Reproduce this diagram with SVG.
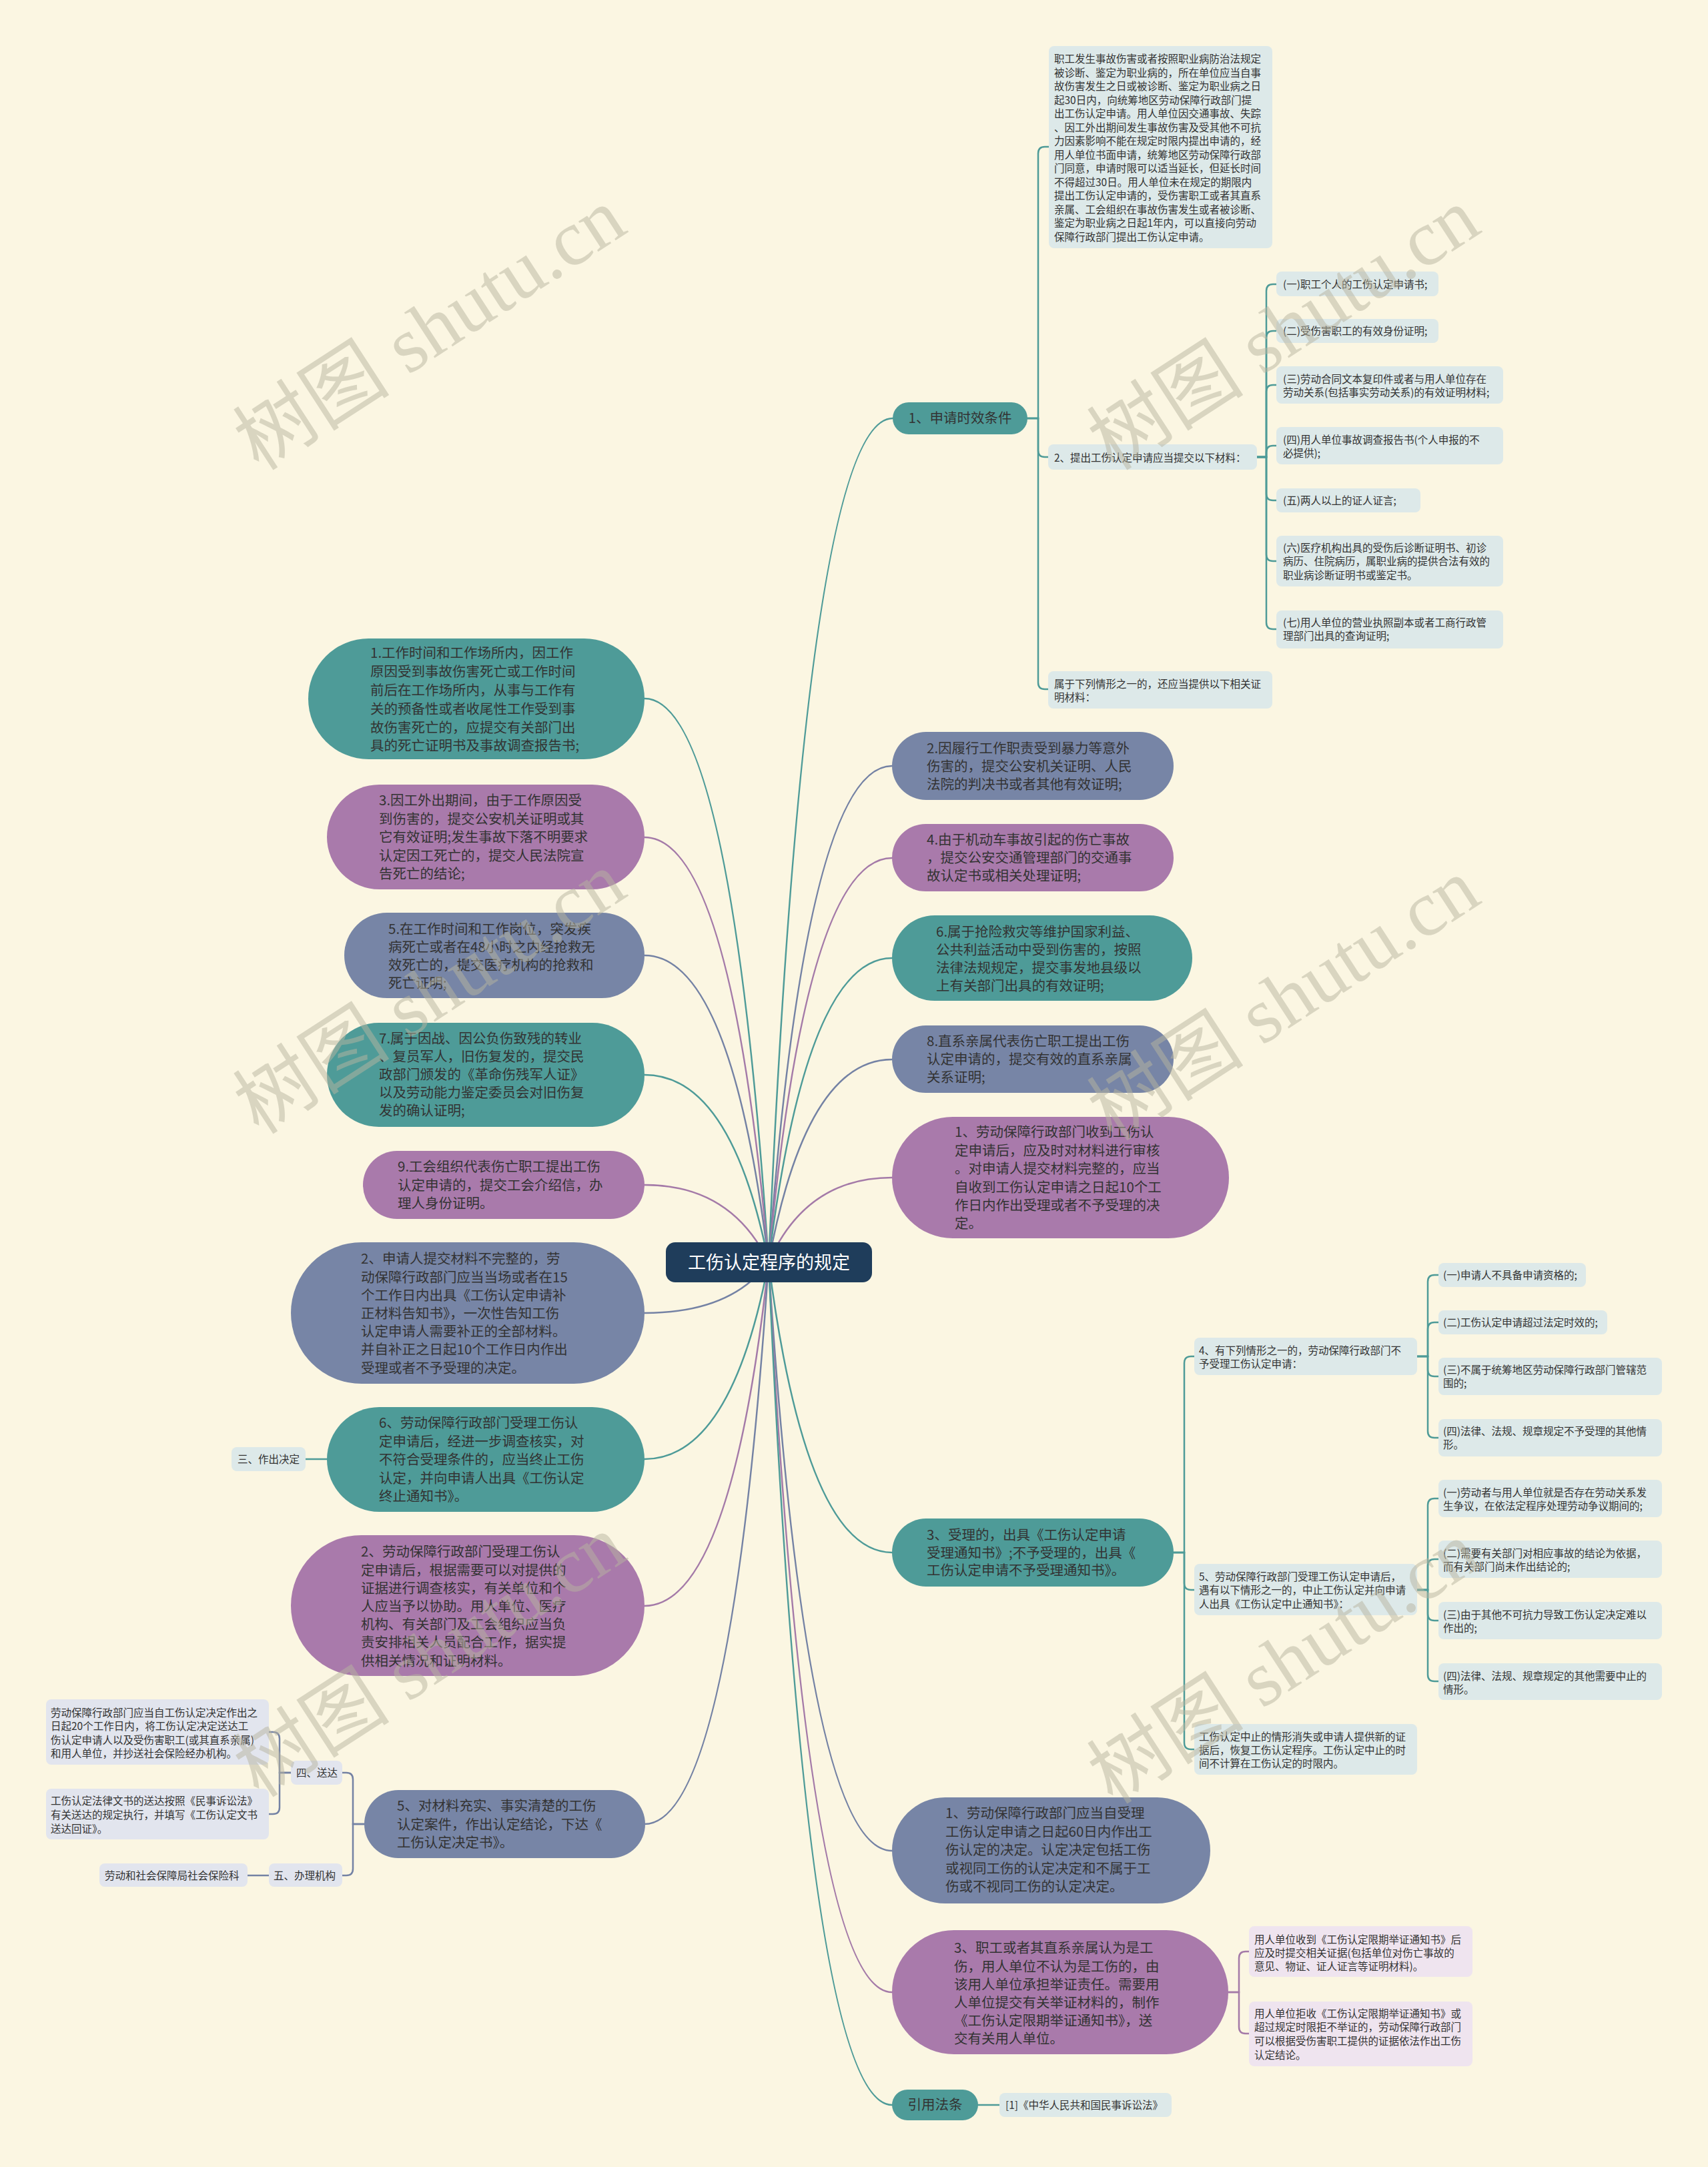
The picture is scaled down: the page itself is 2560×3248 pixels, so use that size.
<svg xmlns="http://www.w3.org/2000/svg" width="2560" height="3248" viewBox="0 0 2560 3248">
<style>
.bg{fill:#fbf6e2}
.t{fill:#4e9b98}.p{fill:#a97aab}.g{fill:#7785a6}
.lb{fill:#dde9e9}.lg{fill:#e2e5ee}.lp{fill:#efe4ef}
.c{fill:none;stroke-width:2.5;stroke-linecap:round}
.ct{stroke:#4e9b98}.cp{stroke:#a47aa8}.cg{stroke:#7482a4}
.big{font-family:"Noto Sans CJK SC","Noto Sans",sans-serif;font-size:20.5px;fill:#333}
.sm{font-family:"Noto Sans CJK SC","Noto Sans",sans-serif;font-size:15.5px;fill:#333}
.wm{font-family:"Liberation Serif","Noto Sans CJK SC",serif;font-size:118px;fill:#b8b5a0;opacity:0.5}
</style>
<rect class="bg" x="0" y="0" width="2560" height="3248"/>

<g id="connectors">
<path class="c ct" d="M1152 1892 Q1208 627 1338 627"/>
<path class="c cg" d="M1152 1892 Q1208 1148 1337 1148"/>
<path class="c cp" d="M1152 1892 Q1208 1286 1337 1286"/>
<path class="c ct" d="M1152 1892 Q1208 1436 1337 1436"/>
<path class="c cg" d="M1152 1892 Q1208 1588 1337 1588"/>
<path class="c cp" d="M1152 1892 Q1208 1765 1337 1765"/>
<path class="c ct" d="M1152 1892 Q1208 2327 1337 2327"/>
<path class="c cg" d="M1152 1892 Q1208 2774 1337 2774"/>
<path class="c cp" d="M1152 1892 Q1208 2986 1337 2986"/>
<path class="c ct" d="M1152 1892 Q1208 3155 1337 3155"/>
<path class="c ct" d="M1152 1892 Q1096 1047 966 1047"/>
<path class="c cp" d="M1152 1892 Q1096 1255 966 1255"/>
<path class="c cg" d="M1152 1892 Q1096 1432 966 1432"/>
<path class="c ct" d="M1152 1892 Q1096 1611 966 1611"/>
<path class="c cp" d="M1152 1892 Q1096 1776 966 1776"/>
<path class="c cg" d="M1152 1892 Q1096 1968 966 1968"/>
<path class="c ct" d="M1152 1892 Q1096 2187 966 2187"/>
<path class="c cp" d="M1152 1892 Q1096 2407 966 2407"/>
<path class="c cg" d="M1152 1892 Q1096 2734 966 2734"/>
<path class="c ct" d="M1540 627 H1556 V230 Q1556 220 1566 220 H1572"/>
<path class="c ct" d="M1540 627 H1556 V675 Q1556 685 1566 685 H1571"/>
<path class="c ct" d="M1540 627 H1556 V1023 Q1556 1033 1566 1033 H1571"/>
<path class="c ct" d="M1884 685 H1898 V436 Q1898 426 1908 426 H1913"/>
<path class="c ct" d="M1884 685 H1898 V506 Q1898 496 1908 496 H1913"/>
<path class="c ct" d="M1884 685 H1898 V587 Q1898 577 1908 577 H1913"/>
<path class="c ct" d="M1884 685 H1898 V678 Q1898 668 1908 668 H1913"/>
<path class="c ct" d="M1884 685 H1898 V740 Q1898 750 1908 750 H1913"/>
<path class="c ct" d="M1884 685 H1898 V831 Q1898 841 1908 841 H1913"/>
<path class="c ct" d="M1884 685 H1898 V933 Q1898 943 1908 943 H1913"/>
<path class="c ct" d="M1759 2327 H1775 V2043 Q1775 2033 1785 2033 H1790"/>
<path class="c ct" d="M1759 2327 H1775 V2373 Q1775 2383 1785 2383 H1790"/>
<path class="c ct" d="M1759 2327 H1775 V2612 Q1775 2622 1785 2622 H1790"/>
<path class="c ct" d="M2124 2033 H2140 V1921 Q2140 1911 2150 1911 H2156"/>
<path class="c ct" d="M2124 2033 H2140 V1992 Q2140 1982 2150 1982 H2156"/>
<path class="c ct" d="M2124 2033 H2140 V2053 Q2140 2063 2150 2063 H2156"/>
<path class="c ct" d="M2124 2033 H2140 V2145 Q2140 2155 2150 2155 H2156"/>
<path class="c ct" d="M2124 2383 H2140 V2256 Q2140 2246 2150 2246 H2156"/>
<path class="c ct" d="M2124 2383 H2140 V2347 Q2140 2337 2150 2337 H2156"/>
<path class="c ct" d="M2124 2383 H2140 V2419 Q2140 2429 2150 2429 H2156"/>
<path class="c ct" d="M2124 2383 H2140 V2510 Q2140 2520 2150 2520 H2156"/>
<path class="c ct" d="M490 2187 H458"/>
<path class="c cg" d="M546 2734 H529 V2667 Q529 2657 519 2657 H513"/>
<path class="c cg" d="M546 2734 H529 V2801 Q529 2811 519 2811 H513"/>
<path class="c cg" d="M436 2657 H419 V2606 Q419 2596 409 2596 H403"/>
<path class="c cg" d="M436 2657 H419 V2709 Q419 2719 409 2719 H403"/>
<path class="c cg" d="M403 2811 H371"/>
<path class="c cp" d="M1841 2986 H1857 V2935 Q1857 2925 1867 2925 H1872"/>
<path class="c cp" d="M1841 2986 H1857 V3038 Q1857 3048 1867 3048 H1872"/>
<path class="c ct" d="M1466 3155 H1498"/>
</g>

<g id="center">
<rect x="998" y="1862" width="309" height="60" rx="14" fill="#1f3d5b"/>
<text x="1152.5" y="1901.5" text-anchor="middle" font-family="Noto Sans CJK SC, sans-serif" font-size="27" fill="#ffffff">工伤认定程序的规定</text>
</g>

<g id="n-shixiao">
<rect class="t" x="1338" y="603" width="202" height="48" rx="24"/>
<text class="big" x="1439" y="634.4" text-anchor="middle">1、申请时效条件</text>
</g>
<g id="n-top">
<rect class="lb" x="1572" y="69" width="335" height="303" rx="8"/>
<text class="sm" x="1580" y="94"><tspan x="1580">职工发生事故伤害或者按照职业病防治法规定</tspan><tspan x="1580" dy="20.5">被诊断、鉴定为职业病的，所在单位应当自事</tspan><tspan x="1580" dy="20.5">故伤害发生之日或被诊断、鉴定为职业病之日</tspan><tspan x="1580" dy="20.5">起30日内，向统筹地区劳动保障行政部门提</tspan><tspan x="1580" dy="20.5">出工伤认定申请。用人单位因交通事故、失踪</tspan><tspan x="1580" dy="20.5">、因工外出期间发生事故伤害及受其他不可抗</tspan><tspan x="1580" dy="20.5">力因素影响不能在规定时限内提出申请的，经</tspan><tspan x="1580" dy="20.5">用人单位书面申请，统筹地区劳动保障行政部</tspan><tspan x="1580" dy="20.5">门同意，申请时限可以适当延长，但延长时间</tspan><tspan x="1580" dy="20.5">不得超过30日。用人单位未在规定的期限内</tspan><tspan x="1580" dy="20.5">提出工伤认定申请的，受伤害职工或者其直系</tspan><tspan x="1580" dy="20.5">亲属、工会组织在事故伤害发生或者被诊断、</tspan><tspan x="1580" dy="20.5">鉴定为职业病之日起1年内，可以直接向劳动</tspan><tspan x="1580" dy="20.5">保障行政部门提出工伤认定申请。</tspan></text>
</g>
<g id="n-tijiao">
<rect class="lb" x="1571" y="666" width="313" height="38" rx="8"/>
<text class="sm" x="1580" y="691.6">2、提出工伤认定申请应当提交以下材料：</text>
</g>
<g id="n-m1"><rect class="lb" x="1913" y="407" width="243" height="37" rx="8"/><text class="sm" x="1923" y="431.6">(一)职工个人的工伤认定申请书;</text></g>
<g id="n-m2"><rect class="lb" x="1913" y="478" width="243" height="36" rx="8"/><text class="sm" x="1923" y="501.6">(二)受伤害职工的有效身份证明;</text></g>
<g id="n-m3"><rect class="lb" x="1913" y="549" width="340" height="56" rx="8"/><text class="sm" x="1923" y="573.6"><tspan x="1923">(三)劳动合同文本复印件或者与用人单位存在</tspan><tspan x="1923" dy="20.5">劳动关系(包括事实劳动关系)的有效证明材料;</tspan></text></g>
<g id="n-m4"><rect class="lb" x="1913" y="640" width="340" height="56" rx="8"/><text class="sm" x="1923" y="664.6"><tspan x="1923">(四)用人单位事故调查报告书(个人申报的不</tspan><tspan x="1923" dy="20.5">必提供);</tspan></text></g>
<g id="n-m5"><rect class="lb" x="1913" y="732" width="216" height="36" rx="8"/><text class="sm" x="1923" y="755.6">(五)两人以上的证人证言;</text></g>
<g id="n-m6"><rect class="lb" x="1913" y="803" width="340" height="76" rx="8"/><text class="sm" x="1923" y="826.6"><tspan x="1923">(六)医疗机构出具的受伤后诊断证明书、初诊</tspan><tspan x="1923" dy="20.5">病历、住院病历，属职业病的提供合法有效的</tspan><tspan x="1923" dy="20.5">职业病诊断证明书或鉴定书。</tspan></text></g>
<g id="n-m7"><rect class="lb" x="1913" y="915" width="340" height="57" rx="8"/><text class="sm" x="1923" y="938.6"><tspan x="1923">(七)用人单位的营业执照副本或者工商行政管</tspan><tspan x="1923" dy="20.5">理部门出具的查询证明;</tspan></text></g>
<g id="n-shuyu">
<rect class="lb" x="1571" y="1006" width="336" height="56" rx="8"/>
<text class="sm" x="1580" y="1030.6"><tspan x="1580">属于下列情形之一的，还应当提供以下相关证</tspan><tspan x="1580" dy="20.5">明材料：</tspan></text>
</g>

<g id="n-r2"><rect class="g" x="1337" y="1097" width="422" height="102" rx="51"/>
<text class="big" x="1389" y="1129.4"><tspan x="1389">2.因履行工作职责受到暴力等意外</tspan><tspan x="1389" dy="27">伤害的，提交公安机关证明、人民</tspan><tspan x="1389" dy="27">法院的判决书或者其他有效证明;</tspan></text></g>
<g id="n-r4"><rect class="p" x="1337" y="1235" width="422" height="101" rx="50.5"/>
<text class="big" x="1389" y="1266.4"><tspan x="1389">4.由于机动车事故引起的伤亡事故</tspan><tspan x="1389" dy="27">，提交公安交通管理部门的交通事</tspan><tspan x="1389" dy="27">故认定书或相关处理证明;</tspan></text></g>
<g id="n-r6"><rect class="t" x="1337" y="1372" width="450" height="128" rx="64"/>
<text class="big" x="1403" y="1404.4"><tspan x="1403">6.属于抢险救灾等维护国家利益、</tspan><tspan x="1403" dy="27">公共利益活动中受到伤害的，按照</tspan><tspan x="1403" dy="27">法律法规规定，提交事发地县级以</tspan><tspan x="1403" dy="27">上有关部门出具的有效证明;</tspan></text></g>
<g id="n-r8"><rect class="g" x="1337" y="1537" width="422" height="101" rx="50.5"/>
<text class="big" x="1389" y="1568.4"><tspan x="1389">8.直系亲属代表伤亡职工提出工伤</tspan><tspan x="1389" dy="27">认定申请的，提交有效的直系亲属</tspan><tspan x="1389" dy="27">关系证明;</tspan></text></g>
<g id="n-shoudao"><rect class="p" x="1337" y="1674" width="505" height="182" rx="91"/>
<text class="big" x="1431" y="1704.4"><tspan x="1431">1、劳动保障行政部门收到工伤认</tspan><tspan x="1431" dy="27.4">定申请后，应及时对材料进行审核</tspan><tspan x="1431" dy="27.4">。对申请人提交材料完整的，应当</tspan><tspan x="1431" dy="27.4">自收到工伤认定申请之日起10个工</tspan><tspan x="1431" dy="27.4">作日内作出受理或者不予受理的决</tspan><tspan x="1431" dy="27.4">定。</tspan></text></g>
<g id="n-shouli"><rect class="t" x="1337" y="2276" width="422" height="102" rx="51"/>
<text class="big" x="1389" y="2308.4"><tspan x="1389">3、受理的，出具《工伤认定申请</tspan><tspan x="1389" dy="26.5">受理通知书》;不予受理的，出具《</tspan><tspan x="1389" dy="26.5">工伤认定申请不予受理通知书》。</tspan></text></g>
<g id="n-buyu"><rect class="lb" x="1790" y="2005" width="334" height="56" rx="8"/>
<text class="sm" x="1797" y="2029.6"><tspan x="1797">4、有下列情形之一的，劳动保障行政部门不</tspan><tspan x="1797" dy="20.5">予受理工伤认定申请：</tspan></text></g>
<g id="n-b1"><rect class="lb" x="2156" y="1893" width="221" height="36" rx="8"/><text class="sm" x="2163" y="1916.6">(一)申请人不具备申请资格的;</text></g>
<g id="n-b2"><rect class="lb" x="2156" y="1964" width="253" height="36" rx="8"/><text class="sm" x="2163" y="1987.6">(二)工伤认定申请超过法定时效的;</text></g>
<g id="n-b3"><rect class="lb" x="2156" y="2035" width="335" height="56" rx="8"/><text class="sm" x="2163" y="2058.6"><tspan x="2163">(三)不属于统筹地区劳动保障行政部门管辖范</tspan><tspan x="2163" dy="20.5">围的;</tspan></text></g>
<g id="n-b4"><rect class="lb" x="2156" y="2127" width="335" height="56" rx="8"/><text class="sm" x="2163" y="2150.6"><tspan x="2163">(四)法律、法规、规章规定不予受理的其他情</tspan><tspan x="2163" dy="20.5">形。</tspan></text></g>
<g id="n-zhongzhi"><rect class="lb" x="1790" y="2344" width="334" height="77" rx="8"/>
<text class="sm" x="1797" y="2368.6"><tspan x="1797">5、劳动保障行政部门受理工伤认定申请后，</tspan><tspan x="1797" dy="20.5">遇有以下情形之一的，中止工伤认定并向申请</tspan><tspan x="1797" dy="20.5">人出具《工伤认定中止通知书》：</tspan></text></g>
<g id="n-z1"><rect class="lb" x="2156" y="2218" width="335" height="56" rx="8"/><text class="sm" x="2163" y="2242.6"><tspan x="2163">(一)劳动者与用人单位就是否存在劳动关系发</tspan><tspan x="2163" dy="20.5">生争议，在依法定程序处理劳动争议期间的;</tspan></text></g>
<g id="n-z2"><rect class="lb" x="2156" y="2309" width="335" height="56" rx="8"/><text class="sm" x="2163" y="2333.6"><tspan x="2163">(二)需要有关部门对相应事故的结论为依据，</tspan><tspan x="2163" dy="20.5">而有关部门尚未作出结论的;</tspan></text></g>
<g id="n-z3"><rect class="lb" x="2156" y="2401" width="335" height="56" rx="8"/><text class="sm" x="2163" y="2425.6"><tspan x="2163">(三)由于其他不可抗力导致工伤认定决定难以</tspan><tspan x="2163" dy="20.5">作出的;</tspan></text></g>
<g id="n-z4"><rect class="lb" x="2156" y="2493" width="335" height="55" rx="8"/><text class="sm" x="2163" y="2517.6"><tspan x="2163">(四)法律、法规、规章规定的其他需要中止的</tspan><tspan x="2163" dy="20.5">情形。</tspan></text></g>
<g id="n-huifu"><rect class="lb" x="1790" y="2584" width="334" height="76" rx="8"/>
<text class="sm" x="1797" y="2608.6"><tspan x="1797">工伤认定中止的情形消失或申请人提供新的证</tspan><tspan x="1797" dy="20">据后，恢复工伤认定程序。工伤认定中止的时</tspan><tspan x="1797" dy="20">间不计算在工伤认定的时限内。</tspan></text></g>
<g id="n-60ri"><rect class="g" x="1337" y="2694" width="477" height="159" rx="79.5"/>
<text class="big" x="1417" y="2725.4"><tspan x="1417">1、劳动保障行政部门应当自受理</tspan><tspan x="1417" dy="27.5">工伤认定申请之日起60日内作出工</tspan><tspan x="1417" dy="27.5">伤认定的决定。认定决定包括工伤</tspan><tspan x="1417" dy="27.5">或视同工伤的认定决定和不属于工</tspan><tspan x="1417" dy="27.5">伤或不视同工伤的认定决定。</tspan></text></g>
<g id="n-juzheng"><rect class="p" x="1337" y="2893" width="504" height="186" rx="93"/>
<text class="big" x="1430" y="2927.4"><tspan x="1430">3、职工或者其直系亲属认为是工</tspan><tspan x="1430" dy="27.2">伤，用人单位不认为是工伤的，由</tspan><tspan x="1430" dy="27.2">该用人单位承担举证责任。需要用</tspan><tspan x="1430" dy="27.2">人单位提交有关举证材料的，制作</tspan><tspan x="1430" dy="27.2">《工伤认定限期举证通知书》，送</tspan><tspan x="1430" dy="27.2">交有关用人单位。</tspan></text></g>
<g id="n-j1"><rect class="lp" x="1872" y="2887" width="335" height="76" rx="8"/>
<text class="sm" x="1880" y="2912.6"><tspan x="1880">用人单位收到《工伤认定限期举证通知书》后</tspan><tspan x="1880" dy="20">应及时提交相关证据(包括单位对伤亡事故的</tspan><tspan x="1880" dy="20">意见、物证、证人证言等证明材料)。</tspan></text></g>
<g id="n-j2"><rect class="lp" x="1872" y="3000" width="335" height="97" rx="8"/>
<text class="sm" x="1880" y="3023.6"><tspan x="1880">用人单位拒收《工伤认定限期举证通知书》或</tspan><tspan x="1880" dy="20.7">超过规定时限拒不举证的，劳动保障行政部门</tspan><tspan x="1880" dy="20.7">可以根据受伤害职工提供的证据依法作出工伤</tspan><tspan x="1880" dy="20.7">认定结论。</tspan></text></g>
<g id="n-fatiao"><rect class="t" x="1337" y="3132" width="129" height="46" rx="23"/>
<text class="big" x="1401.5" y="3162.4" text-anchor="middle">引用法条</text></g>
<g id="n-law"><rect class="lb" x="1498" y="3137" width="258" height="36" rx="8"/>
<text class="sm" x="1507" y="3160.6">[1]《中华人民共和国民事诉讼法》</text></g>

<g id="n-l1"><rect class="t" x="462" y="957" width="504" height="181" rx="90.5"/>
<text class="big" x="555" y="986.4"><tspan x="555">1.工作时间和工作场所内，因工作</tspan><tspan x="555" dy="27.8">原因受到事故伤害死亡或工作时间</tspan><tspan x="555" dy="27.8">前后在工作场所内，从事与工作有</tspan><tspan x="555" dy="27.8">关的预备性或者收尾性工作受到事</tspan><tspan x="555" dy="27.8">故伤害死亡的，应提交有关部门出</tspan><tspan x="555" dy="27.8">具的死亡证明书及事故调查报告书;</tspan></text></g>
<g id="n-l3"><rect class="p" x="490" y="1176" width="476" height="157" rx="78.5"/>
<text class="big" x="568" y="1207.4"><tspan x="568">3.因工外出期间，由于工作原因受</tspan><tspan x="568" dy="27.5">到伤害的，提交公安机关证明或其</tspan><tspan x="568" dy="27.5">它有效证明;发生事故下落不明要求</tspan><tspan x="568" dy="27.5">认定因工死亡的，提交人民法院宣</tspan><tspan x="568" dy="27.5">告死亡的结论;</tspan></text></g>
<g id="n-l5"><rect class="g" x="516" y="1368" width="450" height="128" rx="64"/>
<text class="big" x="582" y="1400.4"><tspan x="582">5.在工作时间和工作岗位，突发疾</tspan><tspan x="582" dy="27">病死亡或者在48小时之内经抢救无</tspan><tspan x="582" dy="27">效死亡的，提交医疗机构的抢救和</tspan><tspan x="582" dy="27">死亡证明;</tspan></text></g>
<g id="n-l7"><rect class="t" x="490" y="1533" width="476" height="156" rx="78"/>
<text class="big" x="568" y="1564.4"><tspan x="568">7.属于因战、因公负伤致残的转业</tspan><tspan x="568" dy="27">、复员军人，旧伤复发的，提交民</tspan><tspan x="568" dy="27">政部门颁发的《革命伤残军人证》</tspan><tspan x="568" dy="27">以及劳动能力鉴定委员会对旧伤复</tspan><tspan x="568" dy="27">发的确认证明;</tspan></text></g>
<g id="n-l9"><rect class="p" x="544" y="1725" width="422" height="102" rx="51"/>
<text class="big" x="596" y="1756.4"><tspan x="596">9.工会组织代表伤亡职工提出工伤</tspan><tspan x="596" dy="27.5">认定申请的，提交工会介绍信，办</tspan><tspan x="596" dy="27.5">理人身份证明。</tspan></text></g>
<g id="n-buzheng"><rect class="g" x="436" y="1862" width="530" height="212" rx="106"/>
<text class="big" x="541" y="1894.4"><tspan x="541">2、申请人提交材料不完整的，劳</tspan><tspan x="541" dy="27.2">动保障行政部门应当当场或者在15</tspan><tspan x="541" dy="27.2">个工作日内出具《工伤认定申请补</tspan><tspan x="541" dy="27.2">正材料告知书》，一次性告知工伤</tspan><tspan x="541" dy="27.2">认定申请人需要补正的全部材料。</tspan><tspan x="541" dy="27.2">并自补正之日起10个工作日内作出</tspan><tspan x="541" dy="27.2">受理或者不予受理的决定。</tspan></text></g>
<g id="n-zhongzhi2"><rect class="t" x="490" y="2109" width="476" height="157" rx="78.5"/>
<text class="big" x="568" y="2140.4"><tspan x="568">6、劳动保障行政部门受理工伤认</tspan><tspan x="568" dy="27.5">定申请后，经进一步调查核实，对</tspan><tspan x="568" dy="27.5">不符合受理条件的，应当终止工伤</tspan><tspan x="568" dy="27.5">认定，并向申请人出具《工伤认定</tspan><tspan x="568" dy="27.5">终止通知书》。</tspan></text></g>
<g id="n-zuochu"><rect class="lb" x="347" y="2169" width="111" height="36" rx="8"/>
<text class="sm" x="356" y="2192.6">三、作出决定</text></g>
<g id="n-diaocha"><rect class="p" x="436" y="2301" width="530" height="211" rx="105.5"/>
<text class="big" x="541" y="2333.4"><tspan x="541">2、劳动保障行政部门受理工伤认</tspan><tspan x="541" dy="27.2">定申请后，根据需要可以对提供的</tspan><tspan x="541" dy="27.2">证据进行调查核实，有关单位和个</tspan><tspan x="541" dy="27.2">人应当予以协助。用人单位、医疗</tspan><tspan x="541" dy="27.2">机构、有关部门及工会组织应当负</tspan><tspan x="541" dy="27.2">责安排相关人员配合工作，据实提</tspan><tspan x="541" dy="27.2">供相关情况和证明材料。</tspan></text></g>
<g id="n-jueding"><rect class="g" x="546" y="2683" width="421" height="102" rx="51"/>
<text class="big" x="595" y="2714.4"><tspan x="595">5、对材料充实、事实清楚的工伤</tspan><tspan x="595" dy="27.5">认定案件，作出认定结论，下达《</tspan><tspan x="595" dy="27.5">工伤认定决定书》。</tspan></text></g>
<g id="n-songda"><rect class="lg" x="436" y="2639" width="77" height="36" rx="8"/>
<text class="sm" x="444" y="2662.6">四、送达</text></g>
<g id="n-sd1"><rect class="lg" x="69" y="2547" width="334" height="98" rx="8"/>
<text class="sm" x="76" y="2572.6"><tspan x="76">劳动保障行政部门应当自工伤认定决定作出之</tspan><tspan x="76" dy="20.5">日起20个工作日内，将工伤认定决定送达工</tspan><tspan x="76" dy="20.5">伤认定申请人以及受伤害职工(或其直系亲属)</tspan><tspan x="76" dy="20.5">和用人单位，并抄送社会保险经办机构。</tspan></text></g>
<g id="n-sd2"><rect class="lg" x="69" y="2681" width="334" height="76" rx="8"/>
<text class="sm" x="76" y="2704.6"><tspan x="76">工伤认定法律文书的送达按照《民事诉讼法》</tspan><tspan x="76" dy="21">有关送达的规定执行，并填写《工伤认定文书</tspan><tspan x="76" dy="21">送达回证》。</tspan></text></g>
<g id="n-jigou"><rect class="lg" x="403" y="2793" width="110" height="35" rx="8"/>
<text class="sm" x="410" y="2816.6">五、办理机构</text></g>
<g id="n-ke"><rect class="lg" x="149" y="2793" width="222" height="35" rx="8"/>
<text class="sm" x="157" y="2816.6">劳动和社会保障局社会保险科</text></g>

<g id="watermarks">
<text class="wm" transform="translate(666 527) rotate(-33)" text-anchor="middle">树图 shutu.cn</text>
<text class="wm" transform="translate(1946 527) rotate(-33)" text-anchor="middle">树图 shutu.cn</text>
<text class="wm" transform="translate(666 1522) rotate(-33)" text-anchor="middle">树图 shutu.cn</text>
<text class="wm" transform="translate(1946 1532) rotate(-33)" text-anchor="middle">树图 shutu.cn</text>
<text class="wm" transform="translate(666 2516) rotate(-33)" text-anchor="middle">树图 shutu.cn</text>
<text class="wm" transform="translate(1946 2526) rotate(-33)" text-anchor="middle">树图 shutu.cn</text>
</g>
</svg>
